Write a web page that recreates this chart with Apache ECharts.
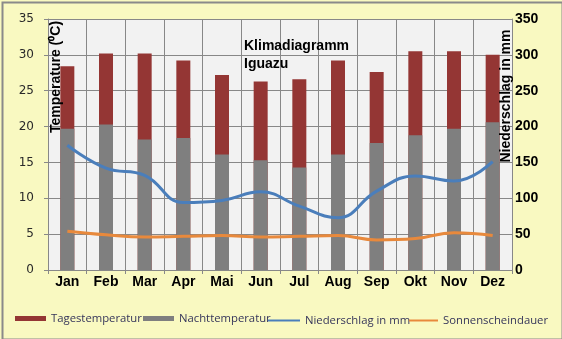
<!DOCTYPE html>
<html>
<head>
<meta charset="utf-8">
<script src="https://cdn.jsdelivr.net/npm/echarts@6/dist/echarts.min.js"></script>
<style>
  html, body { margin: 0; padding: 0; background: #f9f9c1; }
  #chart { width: 562px; height: 339px; }
</style>
</head>
<body>
<div id="chart"></div>
<script>
// Monthly climate values for Iguazu
const months = ['Jan', 'Feb', 'Mar', 'Apr', 'Mai', 'Jun', 'Jul', 'Aug', 'Sep', 'Okt', 'Nov', 'Dez'];
const dayTemp = [28.4, 30.2, 30.2, 29.2, 27.2, 26.3, 26.6, 29.2, 27.6, 30.5, 30.5, 30.0];
const nightTemp = [19.7, 20.3, 18.2, 18.4, 16.1, 15.3, 14.3, 16.1, 17.7, 18.8, 19.7, 20.6];
const precipitation = [174, 142, 132, 94, 97, 109, 89, 73, 110, 131, 124, 151];
const sunshine = [5.4, 4.9, 4.6, 4.7, 4.8, 4.6, 4.7, 4.8, 4.2, 4.4, 5.2, 4.8];
const tempTicks = [0, 5, 10, 15, 20, 25, 30, 35];
const rainTicks = [0, 50, 100, 150, 200, 250, 300, 350];

const gridColor = '#888888';
const legendText = { fontFamily: 'Open Sans', fontSize: 11.3, color: '#35355a' };

const chart = echarts.init(document.getElementById('chart'), null, { renderer: 'canvas' });

chart.setOption({
  backgroundColor: '#f9f9c1',
  animation: false,
  grid: { left: 48, right: 50, top: 19, bottom: 69, show: true, backgroundColor: '#f2f2f2', borderWidth: 0 },
  graphic: [
    {
      type: 'rect', left: 0, top: 0, z: 100, silent: true,
      shape: { x: 1, y: 1, width: 560, height: 337 },
      style: { fill: 'none', stroke: '#8a8a8a', lineWidth: 2 }
    },
    {
      type: 'text', x: 244, y: 46, z: 50,
      style: { text: 'Klimadiagramm', font: 'bold 14px "Liberation Sans", Arial', fill: '#000', verticalAlign: 'middle' }
    },
    {
      type: 'text', x: 244, y: 64, z: 50,
      style: { text: 'Iguazu', font: 'bold 14px "Liberation Sans", Arial', fill: '#000', verticalAlign: 'middle' }
    },
    {
      type: 'text', x: 56, y: 77, rotation: Math.PI / 2, z: 50,
      style: { text: 'Temperature (\u2070C)', font: 'bold 14px "Liberation Sans", Arial', fill: '#000', align: 'center', verticalAlign: 'middle' }
    },
    {
      type: 'text', x: 506, y: 96, rotation: Math.PI / 2, z: 50,
      style: { text: 'Niederschlag in mm', font: 'bold 14px "Liberation Sans", Arial', fill: '#000', align: 'center', verticalAlign: 'middle' }
    }
  ],
  legend: [
    { data: ['Tagestemperatur'], left: 15, top: 312, icon: 'rect', itemWidth: 31, itemHeight: 5, itemGap: 0, textStyle: legendText, padding: [1, 0, 0, 0] },
    { data: ['Nachttemperatur'], left: 143, top: 312, icon: 'rect', itemWidth: 31, itemHeight: 5, itemGap: 0, textStyle: legendText, padding: [1, 0, 0, 0] },
    { data: ['Niederschlag in mm'], left: 268, top: 312, icon: 'rect', itemWidth: 32, itemHeight: 2, itemGap: 0, textStyle: legendText, padding: [3, 0, 0, 0] },
    { data: ['Sonnenscheindauer'], left: 409, top: 312, icon: 'rect', itemWidth: 29, itemHeight: 2, itemGap: 0, textStyle: legendText, padding: [3, 0, 0, 0] }
  ],
  xAxis: {
    type: 'category',
    data: months,
    boundaryGap: true,
    axisLine: { lineStyle: { color: gridColor, width: 1 } },
    axisTick: { show: true, length: 4, lineStyle: { color: gridColor } },
    splitLine: { show: true, lineStyle: { color: gridColor, width: 1 } },
    axisLabel: { color: '#000', fontFamily: 'Liberation Sans', fontWeight: 'bold', fontSize: 14, margin: 5 }
  },
  yAxis: [
    {
      type: 'value', min: tempTicks[0], max: tempTicks[tempTicks.length - 1], interval: 5,
      axisLine: { show: true, lineStyle: { color: gridColor } },
      axisTick: { show: true, length: 4, lineStyle: { color: gridColor } },
      splitLine: { show: true, lineStyle: { color: gridColor, width: 1 } },
      axisLabel: { color: '#2a2a2a', fontFamily: 'DejaVu Sans', fontSize: 12, margin: 14 }
    },
    {
      type: 'value', min: rainTicks[0], max: rainTicks[rainTicks.length - 1], interval: 50,
      axisLine: { show: true, lineStyle: { color: gridColor } },
      axisTick: { show: false },
      splitLine: { show: false },
      axisLabel: { color: '#000', fontFamily: 'Liberation Sans', fontWeight: 'bold', fontSize: 14, margin: 3 }
    }
  ],
  series: [
    {
      name: 'Tagestemperatur', type: 'bar', data: dayTemp, barWidth: 14, barGap: '-100%',
      itemStyle: { color: '#943634' }, z: 2
    },
    {
      name: 'Nachttemperatur', type: 'bar', data: nightTemp, barWidth: 14,
      itemStyle: { color: '#7f7f7f' }, z: 3
    },
    {
      name: 'Niederschlag in mm', type: 'line', yAxisIndex: 1, data: precipitation, smooth: 0.45,
      showSymbol: false, symbol: 'none', lineStyle: { color: '#4a7ebb', width: 3 }, itemStyle: { color: '#4a7ebb' }, z: 5
    },
    {
      name: 'Sonnenscheindauer', type: 'line', yAxisIndex: 0, data: sunshine, smooth: 0.45,
      showSymbol: false, symbol: 'none', lineStyle: { color: '#e8893c', width: 3 }, itemStyle: { color: '#e8893c' }, z: 5
    }
  ]
});
</script>
</body>
</html>
